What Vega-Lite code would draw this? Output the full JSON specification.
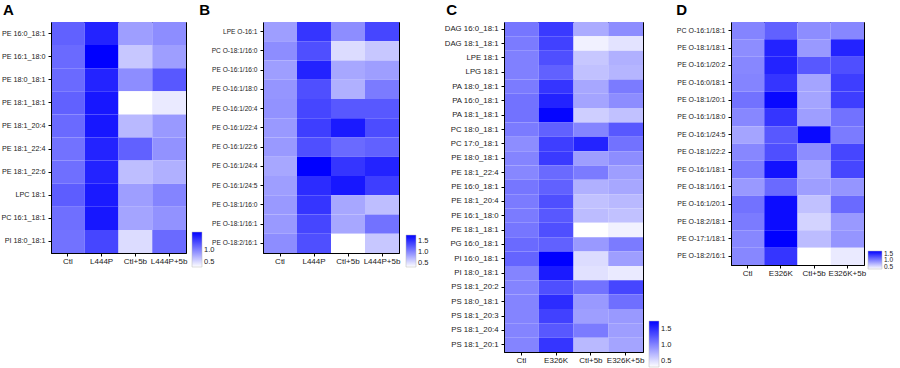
{
  "$schema": "https://vega.github.io/schema/vega-lite/v6.json",
  "padding": {"left": 0, "top": 2, "right": 0, "bottom": 0},
  "background": "white",
  "datasets": {
    "A": [
      {"lipid": "PE 16:0_18:1", "group": "Ctl", "value": 1.2}, {"lipid": "PE 16:0_18:1", "group": "L444P", "value": 1.55}, {"lipid": "PE 16:0_18:1", "group": "Ctl+5b", "value": 0.85}, {"lipid": "PE 16:0_18:1", "group": "L444P+5b", "value": 0.95},
      {"lipid": "PE 16:1_18:0", "group": "Ctl", "value": 1.15}, {"lipid": "PE 16:1_18:0", "group": "L444P", "value": 1.75}, {"lipid": "PE 16:1_18:0", "group": "Ctl+5b", "value": 0.62}, {"lipid": "PE 16:1_18:0", "group": "L444P+5b", "value": 0.85},
      {"lipid": "PE 18:0_18:1", "group": "Ctl", "value": 1.15}, {"lipid": "PE 18:0_18:1", "group": "L444P", "value": 1.55}, {"lipid": "PE 18:0_18:1", "group": "Ctl+5b", "value": 0.95}, {"lipid": "PE 18:0_18:1", "group": "L444P+5b", "value": 1.25},
      {"lipid": "PE 18:1_18:1", "group": "Ctl", "value": 1.2}, {"lipid": "PE 18:1_18:1", "group": "L444P", "value": 1.62}, {"lipid": "PE 18:1_18:1", "group": "Ctl+5b", "value": 0.3}, {"lipid": "PE 18:1_18:1", "group": "L444P+5b", "value": 0.42},
      {"lipid": "PE 18:1_20:4", "group": "Ctl", "value": 1.15}, {"lipid": "PE 18:1_20:4", "group": "L444P", "value": 1.62}, {"lipid": "PE 18:1_20:4", "group": "Ctl+5b", "value": 0.7}, {"lipid": "PE 18:1_20:4", "group": "L444P+5b", "value": 0.88},
      {"lipid": "PE 18:1_22:4", "group": "Ctl", "value": 1.1}, {"lipid": "PE 18:1_22:4", "group": "L444P", "value": 1.55}, {"lipid": "PE 18:1_22:4", "group": "Ctl+5b", "value": 1.2}, {"lipid": "PE 18:1_22:4", "group": "L444P+5b", "value": 0.92},
      {"lipid": "PE 18:1_22:6", "group": "Ctl", "value": 1.12}, {"lipid": "PE 18:1_22:6", "group": "L444P", "value": 1.55}, {"lipid": "PE 18:1_22:6", "group": "Ctl+5b", "value": 0.67}, {"lipid": "PE 18:1_22:6", "group": "L444P+5b", "value": 0.75},
      {"lipid": "LPC 18:1", "group": "Ctl", "value": 1.22}, {"lipid": "LPC 18:1", "group": "L444P", "value": 1.6}, {"lipid": "LPC 18:1", "group": "Ctl+5b", "value": 0.85}, {"lipid": "LPC 18:1", "group": "L444P+5b", "value": 1.0},
      {"lipid": "PC 16:1_18:1", "group": "Ctl", "value": 1.12}, {"lipid": "PC 16:1_18:1", "group": "L444P", "value": 1.62}, {"lipid": "PC 16:1_18:1", "group": "Ctl+5b", "value": 0.82}, {"lipid": "PC 16:1_18:1", "group": "L444P+5b", "value": 0.92},
      {"lipid": "PI 18:0_18:1", "group": "Ctl", "value": 1.1}, {"lipid": "PI 18:0_18:1", "group": "L444P", "value": 1.35}, {"lipid": "PI 18:0_18:1", "group": "Ctl+5b", "value": 0.5}, {"lipid": "PI 18:0_18:1", "group": "L444P+5b", "value": 1.15}
    ],
    "B": [
      {"lipid": "LPE O-16:1", "group": "Ctl", "value": 0.85}, {"lipid": "LPE O-16:1", "group": "L444P", "value": 1.45}, {"lipid": "LPE O-16:1", "group": "Ctl+5b", "value": 0.95}, {"lipid": "LPE O-16:1", "group": "L444P+5b", "value": 1.35},
      {"lipid": "PC O-18:1/16:0", "group": "Ctl", "value": 0.95}, {"lipid": "PC O-18:1/16:0", "group": "L444P", "value": 1.3}, {"lipid": "PC O-18:1/16:0", "group": "Ctl+5b", "value": 0.5}, {"lipid": "PC O-18:1/16:0", "group": "L444P+5b", "value": 0.62},
      {"lipid": "PE O-16:1/16:0", "group": "Ctl", "value": 0.85}, {"lipid": "PE O-16:1/16:0", "group": "L444P", "value": 1.55}, {"lipid": "PE O-16:1/16:0", "group": "Ctl+5b", "value": 0.8}, {"lipid": "PE O-16:1/16:0", "group": "L444P+5b", "value": 0.85},
      {"lipid": "PE O-16:1/18:0", "group": "Ctl", "value": 0.9}, {"lipid": "PE O-16:1/18:0", "group": "L444P", "value": 1.3}, {"lipid": "PE O-16:1/18:0", "group": "Ctl+5b", "value": 0.75}, {"lipid": "PE O-16:1/18:0", "group": "L444P+5b", "value": 1.05},
      {"lipid": "PE O-16:1/20:4", "group": "Ctl", "value": 0.92}, {"lipid": "PE O-16:1/20:4", "group": "L444P", "value": 1.35}, {"lipid": "PE O-16:1/20:4", "group": "Ctl+5b", "value": 1.25}, {"lipid": "PE O-16:1/20:4", "group": "L444P+5b", "value": 1.25},
      {"lipid": "PE O-16:1/22:4", "group": "Ctl", "value": 0.88}, {"lipid": "PE O-16:1/22:4", "group": "L444P", "value": 1.4}, {"lipid": "PE O-16:1/22:4", "group": "Ctl+5b", "value": 1.6}, {"lipid": "PE O-16:1/22:4", "group": "L444P+5b", "value": 1.32},
      {"lipid": "PE O-16:1/22:6", "group": "Ctl", "value": 0.88}, {"lipid": "PE O-16:1/22:6", "group": "L444P", "value": 1.3}, {"lipid": "PE O-16:1/22:6", "group": "Ctl+5b", "value": 1.15}, {"lipid": "PE O-16:1/22:6", "group": "L444P+5b", "value": 1.2},
      {"lipid": "PE O-16:1/24:4", "group": "Ctl", "value": 0.8}, {"lipid": "PE O-16:1/24:4", "group": "L444P", "value": 1.75}, {"lipid": "PE O-16:1/24:4", "group": "Ctl+5b", "value": 1.45}, {"lipid": "PE O-16:1/24:4", "group": "L444P+5b", "value": 1.55},
      {"lipid": "PE O-16:1/24:5", "group": "Ctl", "value": 0.85}, {"lipid": "PE O-16:1/24:5", "group": "L444P", "value": 1.5}, {"lipid": "PE O-16:1/24:5", "group": "Ctl+5b", "value": 1.62}, {"lipid": "PE O-16:1/24:5", "group": "L444P+5b", "value": 1.4},
      {"lipid": "PE O-18:1/16:0", "group": "Ctl", "value": 0.88}, {"lipid": "PE O-18:1/16:0", "group": "L444P", "value": 1.45}, {"lipid": "PE O-18:1/16:0", "group": "Ctl+5b", "value": 0.8}, {"lipid": "PE O-18:1/16:0", "group": "L444P+5b", "value": 0.67},
      {"lipid": "PE O-18:1/16:1", "group": "Ctl", "value": 0.88}, {"lipid": "PE O-18:1/16:1", "group": "L444P", "value": 1.35}, {"lipid": "PE O-18:1/16:1", "group": "Ctl+5b", "value": 0.8}, {"lipid": "PE O-18:1/16:1", "group": "L444P+5b", "value": 1.1},
      {"lipid": "PE O-18:2/16:1", "group": "Ctl", "value": 0.95}, {"lipid": "PE O-18:2/16:1", "group": "L444P", "value": 1.3}, {"lipid": "PE O-18:2/16:1", "group": "Ctl+5b", "value": 0.3}, {"lipid": "PE O-18:2/16:1", "group": "L444P+5b", "value": 0.62}
    ],
    "C": [
      {"lipid": "DAG 16:0_18:1", "group": "Ctl", "value": 1.08}, {"lipid": "DAG 16:0_18:1", "group": "E326K", "value": 1.42}, {"lipid": "DAG 16:0_18:1", "group": "Ctl+5b", "value": 0.78}, {"lipid": "DAG 16:0_18:1", "group": "E326K+5b", "value": 0.95},
      {"lipid": "DAG 18:1_18:1", "group": "Ctl", "value": 1.05}, {"lipid": "DAG 18:1_18:1", "group": "E326K", "value": 1.38}, {"lipid": "DAG 18:1_18:1", "group": "Ctl+5b", "value": 0.38}, {"lipid": "DAG 18:1_18:1", "group": "E326K+5b", "value": 0.46},
      {"lipid": "LPE 18:1", "group": "Ctl", "value": 1.02}, {"lipid": "LPE 18:1", "group": "E326K", "value": 1.3}, {"lipid": "LPE 18:1", "group": "Ctl+5b", "value": 0.62}, {"lipid": "LPE 18:1", "group": "E326K+5b", "value": 0.75},
      {"lipid": "LPG 18:1", "group": "Ctl", "value": 1.02}, {"lipid": "LPG 18:1", "group": "E326K", "value": 1.2}, {"lipid": "LPG 18:1", "group": "Ctl+5b", "value": 0.65}, {"lipid": "LPG 18:1", "group": "E326K+5b", "value": 0.72},
      {"lipid": "PA 18:0_18:1", "group": "Ctl", "value": 1.05}, {"lipid": "PA 18:0_18:1", "group": "E326K", "value": 1.45}, {"lipid": "PA 18:0_18:1", "group": "Ctl+5b", "value": 0.8}, {"lipid": "PA 18:0_18:1", "group": "E326K+5b", "value": 1.05},
      {"lipid": "PA 16:0_18:1", "group": "Ctl", "value": 1.1}, {"lipid": "PA 16:0_18:1", "group": "E326K", "value": 1.55}, {"lipid": "PA 16:0_18:1", "group": "Ctl+5b", "value": 0.82}, {"lipid": "PA 16:0_18:1", "group": "E326K+5b", "value": 0.95},
      {"lipid": "PA 18:1_18:1", "group": "Ctl", "value": 1.1}, {"lipid": "PA 18:1_18:1", "group": "E326K", "value": 1.72}, {"lipid": "PA 18:1_18:1", "group": "Ctl+5b", "value": 0.58}, {"lipid": "PA 18:1_18:1", "group": "E326K+5b", "value": 0.65},
      {"lipid": "PC 18:0_18:1", "group": "Ctl", "value": 1.05}, {"lipid": "PC 18:0_18:1", "group": "E326K", "value": 1.2}, {"lipid": "PC 18:0_18:1", "group": "Ctl+5b", "value": 1.0}, {"lipid": "PC 18:0_18:1", "group": "E326K+5b", "value": 1.25},
      {"lipid": "PC 17:0_18:1", "group": "Ctl", "value": 0.95}, {"lipid": "PC 17:0_18:1", "group": "E326K", "value": 1.4}, {"lipid": "PC 17:0_18:1", "group": "Ctl+5b", "value": 1.55}, {"lipid": "PC 17:0_18:1", "group": "E326K+5b", "value": 1.1},
      {"lipid": "PE 18:0_18:1", "group": "Ctl", "value": 1.0}, {"lipid": "PE 18:0_18:1", "group": "E326K", "value": 1.42}, {"lipid": "PE 18:0_18:1", "group": "Ctl+5b", "value": 0.85}, {"lipid": "PE 18:0_18:1", "group": "E326K+5b", "value": 0.95},
      {"lipid": "PE 18:1_22:4", "group": "Ctl", "value": 0.98}, {"lipid": "PE 18:1_22:4", "group": "E326K", "value": 1.15}, {"lipid": "PE 18:1_22:4", "group": "Ctl+5b", "value": 1.05}, {"lipid": "PE 18:1_22:4", "group": "E326K+5b", "value": 0.85},
      {"lipid": "PE 16:0_18:1", "group": "Ctl", "value": 1.08}, {"lipid": "PE 16:0_18:1", "group": "E326K", "value": 1.2}, {"lipid": "PE 16:0_18:1", "group": "Ctl+5b", "value": 0.75}, {"lipid": "PE 16:0_18:1", "group": "E326K+5b", "value": 0.8},
      {"lipid": "PE 18:1_20:4", "group": "Ctl", "value": 1.05}, {"lipid": "PE 18:1_20:4", "group": "E326K", "value": 1.3}, {"lipid": "PE 18:1_20:4", "group": "Ctl+5b", "value": 0.65}, {"lipid": "PE 18:1_20:4", "group": "E326K+5b", "value": 0.7},
      {"lipid": "PE 16:1_18:0", "group": "Ctl", "value": 1.05}, {"lipid": "PE 16:1_18:0", "group": "E326K", "value": 1.25}, {"lipid": "PE 16:1_18:0", "group": "Ctl+5b", "value": 0.68}, {"lipid": "PE 16:1_18:0", "group": "E326K+5b", "value": 0.65},
      {"lipid": "PE 18:1_18:1", "group": "Ctl", "value": 1.08}, {"lipid": "PE 18:1_18:1", "group": "E326K", "value": 1.3}, {"lipid": "PE 18:1_18:1", "group": "Ctl+5b", "value": 0.3}, {"lipid": "PE 18:1_18:1", "group": "E326K+5b", "value": 0.38},
      {"lipid": "PG 16:0_18:1", "group": "Ctl", "value": 1.15}, {"lipid": "PG 16:0_18:1", "group": "E326K", "value": 1.2}, {"lipid": "PG 16:0_18:1", "group": "Ctl+5b", "value": 0.88}, {"lipid": "PG 16:0_18:1", "group": "E326K+5b", "value": 1.05},
      {"lipid": "PI 16:0_18:1", "group": "Ctl", "value": 1.18}, {"lipid": "PI 16:0_18:1", "group": "E326K", "value": 1.75}, {"lipid": "PI 16:0_18:1", "group": "Ctl+5b", "value": 0.5}, {"lipid": "PI 16:0_18:1", "group": "E326K+5b", "value": 0.85},
      {"lipid": "PI 18:0_18:1", "group": "Ctl", "value": 1.0}, {"lipid": "PI 18:0_18:1", "group": "E326K", "value": 1.6}, {"lipid": "PI 18:0_18:1", "group": "Ctl+5b", "value": 0.47}, {"lipid": "PI 18:0_18:1", "group": "E326K+5b", "value": 0.42},
      {"lipid": "PS 18:1_20:2", "group": "Ctl", "value": 1.0}, {"lipid": "PS 18:1_20:2", "group": "E326K", "value": 1.3}, {"lipid": "PS 18:1_20:2", "group": "Ctl+5b", "value": 1.1}, {"lipid": "PS 18:1_20:2", "group": "E326K+5b", "value": 1.35},
      {"lipid": "PS 18:0_18:1", "group": "Ctl", "value": 1.0}, {"lipid": "PS 18:0_18:1", "group": "E326K", "value": 1.5}, {"lipid": "PS 18:0_18:1", "group": "Ctl+5b", "value": 0.88}, {"lipid": "PS 18:0_18:1", "group": "E326K+5b", "value": 1.12},
      {"lipid": "PS 18:1_20:3", "group": "Ctl", "value": 1.0}, {"lipid": "PS 18:1_20:3", "group": "E326K", "value": 1.38}, {"lipid": "PS 18:1_20:3", "group": "Ctl+5b", "value": 0.85}, {"lipid": "PS 18:1_20:3", "group": "E326K+5b", "value": 0.88},
      {"lipid": "PS 18:1_20:4", "group": "Ctl", "value": 1.0}, {"lipid": "PS 18:1_20:4", "group": "E326K", "value": 1.25}, {"lipid": "PS 18:1_20:4", "group": "Ctl+5b", "value": 1.05}, {"lipid": "PS 18:1_20:4", "group": "E326K+5b", "value": 0.85},
      {"lipid": "PS 18:1_20:1", "group": "Ctl", "value": 1.0}, {"lipid": "PS 18:1_20:1", "group": "E326K", "value": 1.45}, {"lipid": "PS 18:1_20:1", "group": "Ctl+5b", "value": 0.7}, {"lipid": "PS 18:1_20:1", "group": "E326K+5b", "value": 0.82}
    ],
    "D": [
      {"lipid": "PC O-16:1/18:1", "group": "Ctl", "value": 1.0}, {"lipid": "PC O-16:1/18:1", "group": "E326K", "value": 1.2}, {"lipid": "PC O-16:1/18:1", "group": "Ctl+5b", "value": 0.95}, {"lipid": "PC O-16:1/18:1", "group": "E326K+5b", "value": 0.98},
      {"lipid": "PE O-18:1/18:1", "group": "Ctl", "value": 0.95}, {"lipid": "PE O-18:1/18:1", "group": "E326K", "value": 1.55}, {"lipid": "PE O-18:1/18:1", "group": "Ctl+5b", "value": 0.88}, {"lipid": "PE O-18:1/18:1", "group": "E326K+5b", "value": 1.55},
      {"lipid": "PE O-16:1/20:2", "group": "Ctl", "value": 0.98}, {"lipid": "PE O-16:1/20:2", "group": "E326K", "value": 1.55}, {"lipid": "PE O-16:1/20:2", "group": "Ctl+5b", "value": 1.25}, {"lipid": "PE O-16:1/20:2", "group": "E326K+5b", "value": 1.3},
      {"lipid": "PE O-16:0/18:1", "group": "Ctl", "value": 1.0}, {"lipid": "PE O-16:0/18:1", "group": "E326K", "value": 1.45}, {"lipid": "PE O-16:0/18:1", "group": "Ctl+5b", "value": 0.82}, {"lipid": "PE O-16:0/18:1", "group": "E326K+5b", "value": 1.4},
      {"lipid": "PE O-18:1/20:1", "group": "Ctl", "value": 1.1}, {"lipid": "PE O-18:1/20:1", "group": "E326K", "value": 1.7}, {"lipid": "PE O-18:1/20:1", "group": "Ctl+5b", "value": 0.82}, {"lipid": "PE O-18:1/20:1", "group": "E326K+5b", "value": 1.4},
      {"lipid": "PE O-16:1/18:0", "group": "Ctl", "value": 0.98}, {"lipid": "PE O-16:1/18:0", "group": "E326K", "value": 1.45}, {"lipid": "PE O-16:1/18:0", "group": "Ctl+5b", "value": 0.85}, {"lipid": "PE O-16:1/18:0", "group": "E326K+5b", "value": 1.1},
      {"lipid": "PE O-16:1/24:5", "group": "Ctl", "value": 0.82}, {"lipid": "PE O-16:1/24:5", "group": "E326K", "value": 1.25}, {"lipid": "PE O-16:1/24:5", "group": "Ctl+5b", "value": 1.7}, {"lipid": "PE O-16:1/24:5", "group": "E326K+5b", "value": 1.05},
      {"lipid": "PE O-18:1/22:2", "group": "Ctl", "value": 0.98}, {"lipid": "PE O-18:1/22:2", "group": "E326K", "value": 1.3}, {"lipid": "PE O-18:1/22:2", "group": "Ctl+5b", "value": 0.95}, {"lipid": "PE O-18:1/22:2", "group": "E326K+5b", "value": 1.35},
      {"lipid": "PE O-16:1/18:1", "group": "Ctl", "value": 1.05}, {"lipid": "PE O-16:1/18:1", "group": "E326K", "value": 1.65}, {"lipid": "PE O-16:1/18:1", "group": "Ctl+5b", "value": 0.8}, {"lipid": "PE O-16:1/18:1", "group": "E326K+5b", "value": 1.35},
      {"lipid": "PE O-18:1/16:1", "group": "Ctl", "value": 0.88}, {"lipid": "PE O-18:1/16:1", "group": "E326K", "value": 1.15}, {"lipid": "PE O-18:1/16:1", "group": "Ctl+5b", "value": 0.85}, {"lipid": "PE O-18:1/16:1", "group": "E326K+5b", "value": 0.9},
      {"lipid": "PE O-16:1/20:1", "group": "Ctl", "value": 1.1}, {"lipid": "PE O-16:1/20:1", "group": "E326K", "value": 1.68}, {"lipid": "PE O-16:1/20:1", "group": "Ctl+5b", "value": 0.65}, {"lipid": "PE O-16:1/20:1", "group": "E326K+5b", "value": 1.15},
      {"lipid": "PE O-18:2/18:1", "group": "Ctl", "value": 1.05}, {"lipid": "PE O-18:2/18:1", "group": "E326K", "value": 1.68}, {"lipid": "PE O-18:2/18:1", "group": "Ctl+5b", "value": 0.55}, {"lipid": "PE O-18:2/18:1", "group": "E326K+5b", "value": 0.88},
      {"lipid": "PE O-17:1/18:1", "group": "Ctl", "value": 0.98}, {"lipid": "PE O-17:1/18:1", "group": "E326K", "value": 1.75}, {"lipid": "PE O-17:1/18:1", "group": "Ctl+5b", "value": 0.68}, {"lipid": "PE O-17:1/18:1", "group": "E326K+5b", "value": 0.9},
      {"lipid": "PE O-18:2/16:1", "group": "Ctl", "value": 0.98}, {"lipid": "PE O-18:2/16:1", "group": "E326K", "value": 1.45}, {"lipid": "PE O-18:2/16:1", "group": "Ctl+5b", "value": 0.3}, {"lipid": "PE O-18:2/16:1", "group": "E326K+5b", "value": 0.42}
    ]
  },
  "spacing": 77,
  "bounds": "flush",
  "resolve": {"scale": {"color": "independent", "x": "independent", "y": "independent"}, "legend": {"color": "independent"}},
  "hconcat": [
    {
      "data": {"name": "A"},
      "title": {"text": "A", "dx": 2},
      "width": 135, "height": 231,
      "mark": "rect",
      "encoding": {
        "x": {"field": "group", "type": "nominal", "sort": ["Ctl", "L444P", "Ctl+5b", "L444P+5b"]},
        "y": {"field": "lipid", "type": "nominal", "sort": null, "axis": {"labelFontSize": 7.2}},
        "color": {"field": "value", "type": "quantitative",
          "scale": {"domain": [0.3, 1.75], "range": ["#ffffff", "#0000ff"], "interpolate": "rgb", "clamp": true},
          "legend": {"orient": "none", "legendX": 141, "legendY": 210, "gradientLength": 35, "values": [0.5, 1.0], "format": ".1f"}}
      }
    },
    {
      "spacing": 105,
      "bounds": "flush",
      "resolve": {"scale": {"color": "independent", "x": "independent", "y": "independent"}, "legend": {"color": "independent"}},
      "hconcat": [
        {
          "data": {"name": "B"},
          "title": {"text": "B", "dx": -12},
          "width": 136, "height": 231,
          "mark": "rect",
          "encoding": {
            "x": {"field": "group", "type": "nominal", "sort": ["Ctl", "L444P", "Ctl+5b", "L444P+5b"]},
            "y": {"field": "lipid", "type": "nominal", "sort": null, "axis": {"labelFontSize": 6.6}},
            "color": {"field": "value", "type": "quantitative",
              "scale": {"domain": [0.3, 1.75], "range": ["#ffffff", "#0000ff"], "interpolate": "rgb", "clamp": true},
              "legend": {"orient": "none", "legendX": 143, "legendY": 213, "gradientLength": 32, "values": [0.5, 1.0, 1.5], "format": ".1f"}}
          }
        },
        {
          "spacing": 88,
          "bounds": "flush",
          "resolve": {"scale": {"color": "independent", "x": "independent", "y": "independent"}, "legend": {"color": "independent"}},
          "hconcat": [
            {
              "data": {"name": "C"},
              "title": {"text": "C", "dx": 2},
              "width": 139, "height": 330,
              "mark": "rect",
              "encoding": {
                "x": {"field": "group", "type": "nominal", "sort": ["Ctl", "E326K", "Ctl+5b", "E326K+5b"]},
                "y": {"field": "lipid", "type": "nominal", "sort": null, "axis": {"labelFontSize": 7.8}},
                "color": {"field": "value", "type": "quantitative",
                  "scale": {"domain": [0.3, 1.75], "range": ["#ffffff", "#0000ff"], "interpolate": "rgb", "clamp": true},
                  "legend": {"orient": "none", "legendX": 145, "legendY": 299, "gradientLength": 46, "values": [0.5, 1.0, 1.5], "format": ".1f"}}
              }
            },
            {
              "data": {"name": "D"},
              "title": {"text": "D", "dx": 0},
              "width": 133, "height": 243,
              "mark": "rect",
              "encoding": {
                "x": {"field": "group", "type": "nominal", "sort": ["Ctl", "E326K", "Ctl+5b", "E326K+5b"]},
                "y": {"field": "lipid", "type": "nominal", "sort": null, "axis": {"labelFontSize": 7}},
                "color": {"field": "value", "type": "quantitative",
                  "scale": {"domain": [0.3, 1.75], "range": ["#ffffff", "#0000ff"], "interpolate": "rgb", "clamp": true},
                  "legend": {"orient": "none", "legendX": 137, "legendY": 229, "gradientLength": 18, "gradientThickness": 14, "values": [0.5, 1.0, 1.5], "format": ".1f", "labelFontSize": 6.5}}
              }
            }
          ]
        }
      ]
    }
  ],
  "config": {
    "font": "Liberation Sans",
    "view": {"stroke": "#000000", "strokeWidth": 1},
    "axis": {"title": null, "grid": false, "labelFont": "Liberation Sans", "labelFontSize": 8, "labelColor": "#1a1a1a", "tickColor": "#000000", "domainColor": "#000000", "tickSize": 3},
    "axisX": {"labelAngle": 0, "labelPadding": 1},
    "axisY": {"labelPadding": 3},
    "legend": {"title": null, "direction": "vertical", "gradientThickness": 10, "labelFont": "Liberation Sans", "labelFontSize": 7.5, "labelColor": "#1a1a1a", "labelOffset": 5, "labelOverlap": false, "gradientStrokeColor": "#bbbbbb", "gradientStrokeWidth": 0.5},
    "title": {"font": "Liberation Sans", "fontSize": 15, "fontWeight": "bold", "anchor": "start", "frame": "bounds", "offset": 4, "color": "#000000"}
  }
}
